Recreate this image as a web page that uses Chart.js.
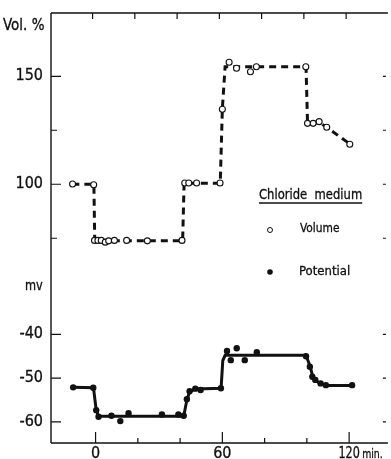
<!DOCTYPE html>
<html>
<head>
<meta charset="utf-8">
<script src="https://cdn.jsdelivr.net/npm/chart.js@4.4.1/dist/chart.umd.min.js"></script>
<style>
  html, body { margin: 0; padding: 0; background: #fff; }
</style>
</head>
<body>
<canvas id="chart" width="391" height="459"></canvas>
<script>
/* ===== Volume / potential vs time, chloride medium ===== */

// Volume (%), open circles
const volTimes  = [-10.9, -0.9, -0.5, 1.1, 2.7, 4.6, 6.2, 8.9, 14.7, 24.5, 40.9, 42.2, 44.1, 47.8, 58.9,
                   60.0, 63.2, 66.7, 73.3, 76.1, 99.5, 100.3, 103.0, 105.8, 109.4, 120.3];
const volValues = [100.1, 99.8, 74, 74, 74, 73.2, 73.8, 74, 74, 73.8, 74, 100.6, 100.6, 100.6, 100.6,
                   134.7, 156.5, 153.7, 152.1, 154.4, 154.4, 128.2, 128.2, 129.0, 126.4, 118.5];

// Dashed fitted course of the volume
const volFitTimes  = [-11, -0.8, -0.4, 41.2, 41.9, 59.0, 60.0, 61.3, 99.6, 100.3, 106.0, 120.6];
const volFitValues = [100, 100, 73.9, 73.9, 100.5, 100.5, 135, 154.4, 154.4, 128.7, 128.7, 118.5];

// Potential (mV), filled dots
const potTimes  = [-10.6, -1.1, 0.3, 1.4, 7.5, 11.7, 15.6, 31.4, 39.2, 41.7, 43.2, 44.5, 47.2, 49.7, 59.3,
                   62.2, 64.0, 66.8, 70.6, 76.3, 99.6, 101.4, 102.6, 104.0, 106.5, 109.0, 121.4];
const potValues = [-52.1, -52.2, -57.3, -58.8, -58.6, -59.8, -58.0, -58.3, -58.3, -58.6, -54.8, -53.0, -52.4, -52.7, -52.3,
                   -43.8, -45.9, -43.2, -45.9, -44.1, -45.0, -47.4, -49.7, -50.4, -51.2, -51.6, -51.6];

// Solid fitted course of the potential
const potFitTimes  = [-10.6, -1.0, 0.3, 1.4, 41.7, 43.2, 44.5, 47.2, 59.4, 60.2, 61.3, 99.6, 101.5, 103.0, 106.0, 109.0, 121.4];
const potFitValues = [-52.1, -52.2, -57.3, -58.7, -58.7, -55.0, -53.1, -52.5, -52.3, -46.0, -44.8, -44.8, -47.3, -50.0, -51.2, -51.7, -51.7];

// Axes
const xTicks = [0, 20, 40, 60, 80, 100, 120];
const xTickLabels = ['0', '', '', '60', '', '', '120'];
const volTicks = [75, 100, 125, 150];
const volTickLabels = ['', '100', '', '150'];
const potTicks = [-60, -50, -40];
const potTickLabels = ['-60', '-50', '-40'];

const INK = '#111';
const FONT = '"DejaVu Sans Condensed", "DejaVu Sans", sans-serif';

const toXY = (xs, ys) => xs.map((x, i) => ({ x: x, y: ys[i] }));

// text with an optional horizontal squeeze round its anchor
function text(ctx, str, x, y, align, squeeze) {
    ctx.save();
    ctx.translate(x, y);
    ctx.scale(squeeze || 1, 1);
    ctx.textAlign = align || 'left';
    ctx.fillText(str, 0, 0);
    ctx.lineWidth = 0.3;
    ctx.strokeText(str, 0, 0);
    ctx.restore();
}

const frame = {
    id: 'frame',
    afterDraw(chart) {
        const ctx = chart.ctx;
        const a = chart.chartArea;
        const sx = chart.scales.x, sv = chart.scales.yVol, sp = chart.scales.yPot;
        ctx.save();
        ctx.strokeStyle = INK;
        ctx.fillStyle = INK;
        ctx.lineWidth = 1.4;

        // axis lines: left, bottom, top
        ctx.beginPath();
        ctx.moveTo(a.left, a.top); ctx.lineTo(a.left, a.bottom);
        ctx.moveTo(a.left, a.bottom); ctx.lineTo(a.right + 2, a.bottom);
        ctx.moveTo(a.left, a.top); ctx.lineTo(a.right + 2, a.top);
        ctx.stroke();

        ctx.lineWidth = 1.2;
        // x ticks, bottom and top, pointing in
        xTicks.forEach((v, i) => {
            const px = sx.getPixelForValue(v);
            const len = xTickLabels[i] ? 11 : 5;
            ctx.beginPath();
            ctx.moveTo(px, a.bottom); ctx.lineTo(px, a.bottom - len);
            ctx.moveTo(px - 3, a.top); ctx.lineTo(px - 3, a.top + 6);
            ctx.stroke();
        });
        // y ticks, left and right
        const yTick = (py, len) => {
            ctx.beginPath();
            ctx.moveTo(a.left, py); ctx.lineTo(a.left + len, py);
            ctx.moveTo(a.right, py); ctx.lineTo(a.right - 3, py);
            ctx.stroke();
        };
        volTicks.forEach((v, i) => yTick(sv.getPixelForValue(v), volTickLabels[i] ? 10 : 6));
        potTicks.forEach(v => yTick(sp.getPixelForValue(v), 10));

        // tick labels
        ctx.font = '16px ' + FONT;
        ctx.textBaseline = 'middle';
        volTicks.forEach((v, i) => {
            if (volTickLabels[i]) text(ctx, volTickLabels[i], a.left - 8, sv.getPixelForValue(v), 'right');
        });
        potTicks.forEach((v, i) => text(ctx, potTickLabels[i], a.left - 8, sp.getPixelForValue(v), 'right'));

        xTicks.forEach((v, i) => {
            const lab = xTickLabels[i];
            if (!lab) return;
            const px = sx.getPixelForValue(v);
            if (i === xTicks.length - 1) {
                text(ctx, lab, px, a.bottom + 11, 'center', 0.78);
                ctx.font = '13px ' + FONT;
                text(ctx, 'min.', px + 13, a.bottom + 12, 'left', 0.8);
                ctx.font = '16px ' + FONT;
            } else {
                text(ctx, lab, px, a.bottom + 11, 'center');
            }
        });

        // axis titles
        ctx.font = '15px ' + FONT;
        text(ctx, 'Vol. %', 3, 26, 'left');
        ctx.font = '14px ' + FONT;
        text(ctx, 'mv', 25, 286, 'left', 0.9);

        // legend
        ctx.font = '14px ' + FONT;
        const title = 'Chloride  medium';
        text(ctx, title, 259, 195, 'left', 0.92);
        const w = ctx.measureText(title).width * 0.92;
        ctx.lineWidth = 1.3;
        ctx.beginPath();
        ctx.moveTo(259, 203); ctx.lineTo(259 + w, 203);
        ctx.stroke();

        ctx.font = '13px ' + FONT;
        text(ctx, 'Volume', 300, 229, 'left', 0.91);
        text(ctx, 'Potential', 299, 272, 'left');
        ctx.lineWidth = 1;
        ctx.beginPath();
        ctx.arc(270, 230, 2.5, 0, Math.PI * 2);
        ctx.stroke();
        ctx.beginPath();
        ctx.arc(270, 272, 2.8, 0, Math.PI * 2);
        ctx.fill();

        ctx.restore();
    }
};

new Chart(document.getElementById('chart'), {
    type: 'line',
    data: {
        datasets: [
            {
                label: 'Volume',
                data: toXY(volTimes, volValues),
                yAxisID: 'yVol',
                showLine: false,
                pointRadius: 3,
                pointBorderWidth: 1.1,
                pointBackgroundColor: '#fff',
                pointBorderColor: INK
            },
            {
                label: 'Potential',
                data: toXY(potTimes, potValues),
                yAxisID: 'yPot',
                showLine: false,
                pointRadius: 3.2,
                pointBorderWidth: 0,
                pointBackgroundColor: INK,
                pointBorderColor: INK
            },
            {
                label: 'Volume course',
                data: toXY(volFitTimes, volFitValues),
                yAxisID: 'yVol',
                borderColor: INK,
                borderWidth: 3,
                borderDash: [7, 5],
                pointRadius: 0,
                tension: 0
            },
            {
                label: 'Potential course',
                data: toXY(potFitTimes, potFitValues),
                yAxisID: 'yPot',
                borderColor: INK,
                borderWidth: 3,
                pointRadius: 0,
                tension: 0
            }
        ]
    },
    options: {
        responsive: false,
        animation: false,
        devicePixelRatio: 1,
        layout: { padding: { left: 51, top: 13, right: 2, bottom: 16 } },
        plugins: { legend: { display: false }, tooltip: { enabled: false } },
        scales: {
            x: { type: 'linear', min: -21.1, max: 137.4, display: false },
            yVol: { type: 'linear', min: -19.8, max: 179.3, display: false },
            yPot: { type: 'linear', min: -64.8, max: 33.3, display: false }
        }
    },
    plugins: [frame]
});
</script>
</body>
</html>
